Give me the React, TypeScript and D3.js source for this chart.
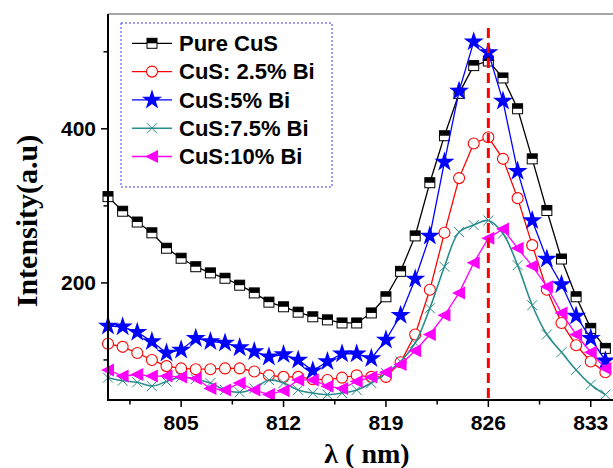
import React from 'react';
import * as d3 from 'd3';

// wavelength (nm)
const wavelengths = d3.range(800, 835);

const pureCuS = [312, 293, 279, 265, 245, 232, 221, 213, 206, 197, 187, 175, 169, 162, 156, 152, 148, 148, 161, 182, 215, 261, 330, 391, 446, 482, 488, 466, 426, 361, 294, 231, 182, 141, 115];
const bi25 = [121, 117, 109, 100, 92, 89, 88, 88, 89, 89, 85, 80, 78, 78, 75, 74, 77, 80, 78, 78, 97, 133, 191, 265, 336, 381, 389, 361, 310, 249, 191, 148, 119, 98, 84];
const bi5 = [144, 143, 136, 124, 109, 113, 128, 124, 122, 116, 111, 104, 107, 100, 86, 98, 108, 108, 102, 126, 158, 205, 261, 357, 449, 513, 499, 436, 345, 281, 231, 198, 157, 128, 99];
const bi75 = [77, 73, 71, 66, 72, 78, 75, 70, 61, 58, 63, 74, 70, 61, 57, 55, 57, 61, 70, 83, 98, 122, 167, 221, 266, 275, 281, 264, 223, 171, 133, 110, 87, 68, 55];
const bi10 = [87, 79, 81, 79, 79, 78, 76, 63, 61, 70, 61, 55, 60, 74, 74, 66, 63, 72, 78, 84, 94, 112, 133, 158, 187, 226, 258, 270, 245, 222, 195, 161, 133, 110, 89];

const xTicks = [805, 812, 819, 826, 833];
const xMinorTicks = [801.5, 808.5, 815.5, 822.5, 829.5];
const yTicks = [200, 400];
const yMinorTicks = [100, 300, 500];
const peakLine = 826;

const series = [
  { name: 'Pure CuS', values: pureCuS, color: '#000000', marker: 'halfSquare', smooth: false },
  { name: 'CuS: 2.5% Bi', values: bi25, color: '#ff0000', marker: 'circle', smooth: false },
  { name: 'CuS:5% Bi', values: bi5, color: '#0000ff', marker: 'star', smooth: false },
  { name: 'CuS:7.5% Bi', values: bi75, color: '#2a8c8c', marker: 'cross', smooth: true },
  { name: 'CuS:10% Bi', values: bi10, color: '#ff00ff', marker: 'triangle', smooth: false },
];

const W = 613;
const H = 468;
const margin = { left: 108, top: 14, right: -7, bottom: 68 };

const Marker = ({ type, color, x, y }) => {
  const t = `translate(${x},${y})`;
  if (type === 'halfSquare') {
    return (
      <g transform={t}>
        <rect x={-5} y={-5} width={10} height={10} fill="#fff" stroke="#000" strokeWidth={1} />
        <rect x={-5} y={-5} width={10} height={5} fill="#000" />
      </g>
    );
  }
  if (type === 'circle') {
    return <circle cx={x} cy={y} r={5.5} fill="#fff" stroke={color} strokeWidth={1.1} />;
  }
  if (type === 'star') {
    return <path transform={t} d={d3.symbol(d3.symbolStar, 125)()} fill={color} />;
  }
  if (type === 'cross') {
    return <path transform={t} d="M-5,-5L5,5M-5,5L5,-5" stroke={color} strokeWidth={1} fill="none" />;
  }
  return <path transform={t} d="M-7,0L6,-6.5L6,6.5Z" fill={color} />;
};

export default function App() {
  const x = d3.scaleLinear().domain([800, 835]).range([margin.left, W - margin.right]);
  const y = d3.scaleLinear().domain([48, 549]).range([H - margin.bottom, margin.top]);
  const bottom = H - margin.bottom;

  const lineGen = (smooth) =>
    d3.line()
      .x((d) => x(d[0]))
      .y((d) => y(d[1]))
      .curve(smooth ? d3.curveCatmullRom.alpha(0.5) : d3.curveLinear);

  const legendX = 121;
  const legendY = 23;
  const rowH = 28.3;

  return (
    <svg width={W} height={H} style={{ position: 'absolute', left: 0, top: 0, background: '#fff' }}>
      {/* frame top */}
      <line x1={margin.left} x2={W} y1={margin.top} y2={margin.top} stroke="#8a8a8a" strokeWidth={1.5} />

      {/* series */}
      {series.map((s) => {
        const pts = wavelengths.map((w, i) => [w, s.values[i]]);
        return (
          <g key={s.name}>
            <path d={lineGen(s.smooth)(pts)} fill="none" stroke={s.color} strokeWidth={s.smooth ? 1.6 : 1.3} />
            {pts.map((p) => (
              <Marker key={p[0]} type={s.marker} color={s.color} x={x(p[0])} y={y(p[1])} />
            ))}
          </g>
        );
      })}

      {/* peak marker */}
      <line x1={x(peakLine)} x2={x(peakLine)} y1={28} y2={bottom} stroke="#ff0000" strokeWidth={3} strokeDasharray="10,5" />

      {/* axes */}
      <line x1={margin.left} x2={margin.left} y1={margin.top} y2={bottom + 1} stroke="#000" strokeWidth={2} />
      <line x1={margin.left - 1} x2={W} y1={bottom} y2={bottom} stroke="#000" strokeWidth={2} />

      {xTicks.map((t) => (
        <g key={t}>
          <line x1={x(t)} x2={x(t)} y1={bottom} y2={bottom + 7} stroke="#000" strokeWidth={1.5} />
          <text x={x(t)} y={430} textAnchor="middle" fontFamily="Liberation Sans, Arial, sans-serif" fontWeight="bold" fontSize={21}>
            {t}
          </text>
        </g>
      ))}
      {xMinorTicks.map((t) => (
        <line key={t} x1={x(t)} x2={x(t)} y1={bottom} y2={bottom + 4.5} stroke="#000" strokeWidth={1.5} />
      ))}
      {yTicks.map((t) => (
        <g key={t}>
          <line x1={margin.left - 7} x2={margin.left} y1={y(t)} y2={y(t)} stroke="#000" strokeWidth={1.5} />
          <text x={96} y={y(t) + 7.5} textAnchor="end" fontFamily="Liberation Sans, Arial, sans-serif" fontWeight="bold" fontSize={21}>
            {t}
          </text>
        </g>
      ))}
      {yMinorTicks.map((t) => (
        <line key={t} x1={margin.left - 4.5} x2={margin.left} y1={y(t)} y2={y(t)} stroke="#000" strokeWidth={1.5} />
      ))}

      {/* axis titles */}
      <text x={367} y={463} textAnchor="middle" fontFamily="Liberation Serif, Times New Roman, serif" fontWeight="bold" fontSize={28}>
        λ ( nm)
      </text>
      <text transform="translate(37,221) rotate(-90)" textAnchor="middle" fontFamily="Liberation Serif, Times New Roman, serif" fontWeight="bold" fontSize={30}>
        Intensity(a.u)
      </text>

      {/* legend */}
      <rect x={legendX} y={legendY} width={211} height={164} fill="#fff" stroke="#3d3dff" strokeWidth={1} strokeDasharray="2,2" />
      {series.map((s, i) => {
        const cy = 43.3 + i * rowH;
        return (
          <g key={s.name}>
            <line x1={132} x2={172} y1={cy} y2={cy} stroke={s.color} strokeWidth={s.smooth ? 1.6 : 1.3} />
            <Marker type={s.marker} color={s.color} x={152} y={cy} />
            <text x={179} y={cy + 7.8} fontFamily="Liberation Sans, Arial, sans-serif" fontWeight="bold" fontSize={22}>
              {s.name}
            </text>
          </g>
        );
      })}
    </svg>
  );
}
